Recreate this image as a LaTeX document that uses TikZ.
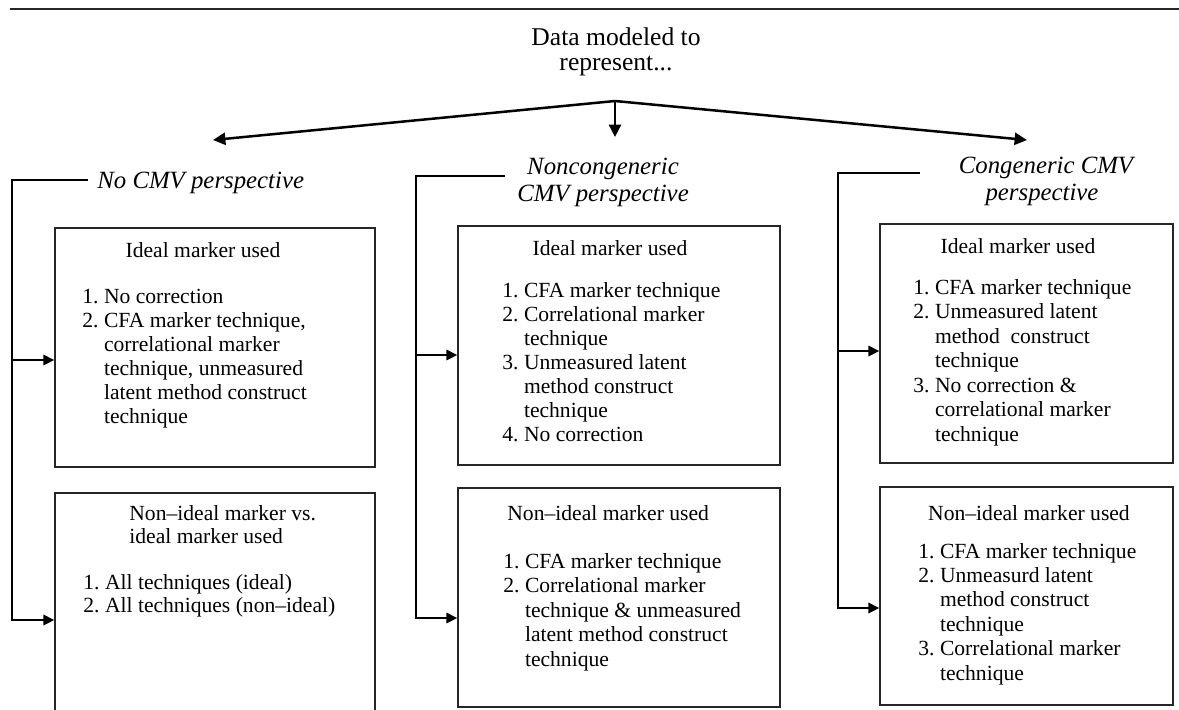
\documentclass[tikz,border=0pt]{standalone}
\usepackage{fontspec}
\setmainfont{Liberation Serif}
\usetikzlibrary{arrows.meta}
\frenchspacing
\newcommand\ci{\phantom{2.\ }}
\newcommand\blist[2]{\begin{minipage}[t]{170pt}\fontsize{10.8}{#1}\selectfont\raggedright #2\end{minipage}}
\begin{document}
\frenchspacing
\begin{tikzpicture}[x=0.5pt,y=-0.5pt,
  boxed/.style={draw=black!85, line width=0.75pt, inner sep=0pt},
  mainarrow/.style={line width=1.25pt, -{Triangle[length=6.2pt,width=6pt]}},
  feed/.style={line width=0.9pt, -{Triangle[length=5.4pt,width=5.2pt]}},
  ttl/.style={font=\fontsize{12.8}{15}\selectfont, inner sep=0pt, anchor=base},
  hd/.style={font=\fontsize{12.4}{13.5}\selectfont\itshape, inner sep=0pt, anchor=base},
  bt/.style={font=\fontsize{10.8}{12}\selectfont, inner sep=0pt, anchor=base},
  lt/.style={inner sep=0pt, anchor=base west},
]
\useasboundingbox (0,0) rectangle (1179,709);
% top rule
\coordinate (R0) at (10,9);
\coordinate (R1e) at (1179,9);
\draw[line width=0.8pt, black!85] (R0) -- (R1e);

% title
\node[ttl] (t1) at (616,45) {Data modeled to};
\node[ttl] (t2) at (616,70) {represent...};
\coordinate (B) at (615,101);
\coordinate (Ltip) at (213,140);
\coordinate (Mtip) at (615,137);
\coordinate (Rtip) at (1027,140);
\draw[mainarrow] (B) -- (Ltip);
\draw[mainarrow] (B) -- (Mtip);
\draw[mainarrow] (B) -- (Rtip);

% headings
\node[hd, anchor=base west] (Lh) at (97,188) {No CMV perspective};
\node[hd] (Mh1) at (603,174) {Noncongeneric};
\node[hd] (Mh2) at (603,201) {CMV perspective};
\node[hd] (Rh1) at (1046,173) {Congeneric CMV};
\node[hd] (Rh2) at (1042,200) {perspective};

% boxes
\node[boxed, minimum width=160pt, minimum height=119.5pt] (L1) at (215,347.5) {};
\node[boxed, minimum width=160pt, minimum height=118.5pt] (L2) at (215,611.5) {};
\node[boxed, minimum width=161pt, minimum height=119.5pt] (M1) at (619,345.5) {};
\node[boxed, minimum width=161pt, minimum height=109.5pt] (M2) at (619,597.5) {};
\node[boxed, minimum width=146.5pt, minimum height=119.5pt] (R1) at (1026.5,343.5) {};
\node[boxed, minimum width=146.5pt, minimum height=109pt] (R2) at (1026.5,596) {};

% brackets and feeding arrows
\coordinate (Le) at (88,180);
\coordinate (Lt) at (12,180);
\coordinate (Lm) at (12,360);
\coordinate (Lb) at (12,620);
\draw[feed] (Le) -- (Lt) -- (Lb) -- (Lb -| L2.west);
\draw[feed] (Lm) -- (Lm -| L1.west);

\coordinate (Me) at (505,176);
\coordinate (Mt) at (416,176);
\coordinate (Mm) at (416,355);
\coordinate (Mb) at (416,618);
\draw[feed] (Me) -- (Mt) -- (Mb) -- (Mb -| M2.west);
\draw[feed] (Mm) -- (Mm -| M1.west);

\coordinate (Re) at (920,173);
\coordinate (Rt) at (838,173);
\coordinate (Rm) at (838,351);
\coordinate (Rb) at (838,608);
\draw[feed] (Re) -- (Rt) -- (Rb) -- (Rb -| R2.west);
\draw[feed] (Rm) -- (Rm -| R1.west);

% box texts
\node[bt] (L1h) at (203,257) {Ideal marker used};
\node[lt] (L1l) at (82,303) {\blist{12pt}{1. No correction\\
2. CFA marker technique,\\
\ci correlational marker\\
\ci technique, unmeasured\\
\ci latent method construct\\
\ci technique}};

\node[lt] (L2h) at (129,520) {\blist{11.6pt}{Non–ideal marker vs.\\ ideal marker used}};
\node[lt] (L2l) at (83,589) {\blist{11.6pt}{1. All techniques (ideal)\\
2. All techniques (non–ideal)}};

\node[bt] (M1h) at (610,255) {Ideal marker used};
\node[lt] (M1l) at (502,297) {\blist{12pt}{1. CFA marker technique\\
2. Correlational marker\\
\ci technique\\
3. Unmeasured latent\\
\ci method construct\\
\ci technique\\
4. No correction}};

\node[lt] (M2h) at (507,520) {\blist{12pt}{Non–ideal marker used}};
\node[lt] (M2l) at (503,568) {\blist{12.25pt}{1. CFA marker technique\\
2. Correlational marker\\
\ci technique \& unmeasured\\
\ci latent method construct\\
\ci technique}};

\node[bt] (R1h) at (1018,253) {Ideal marker used};
\node[lt] (R1l) at (913,294) {\blist{12.25pt}{1. CFA marker technique\\
2. Unmeasured latent\\
\ci method\ \ construct\\
\ci technique\\
3. No correction \&\\
\ci correlational marker\\
\ci technique}};

\node[bt] (R2h) at (1029,520) {Non–ideal marker used};
\node[lt] (R2l) at (918,558) {\blist{12.2pt}{1. CFA marker technique\\
2. Unmeasurd latent\\
\ci method construct\\
\ci technique\\
3. Correlational marker\\
\ci technique}};
\end{tikzpicture}
\end{document}
